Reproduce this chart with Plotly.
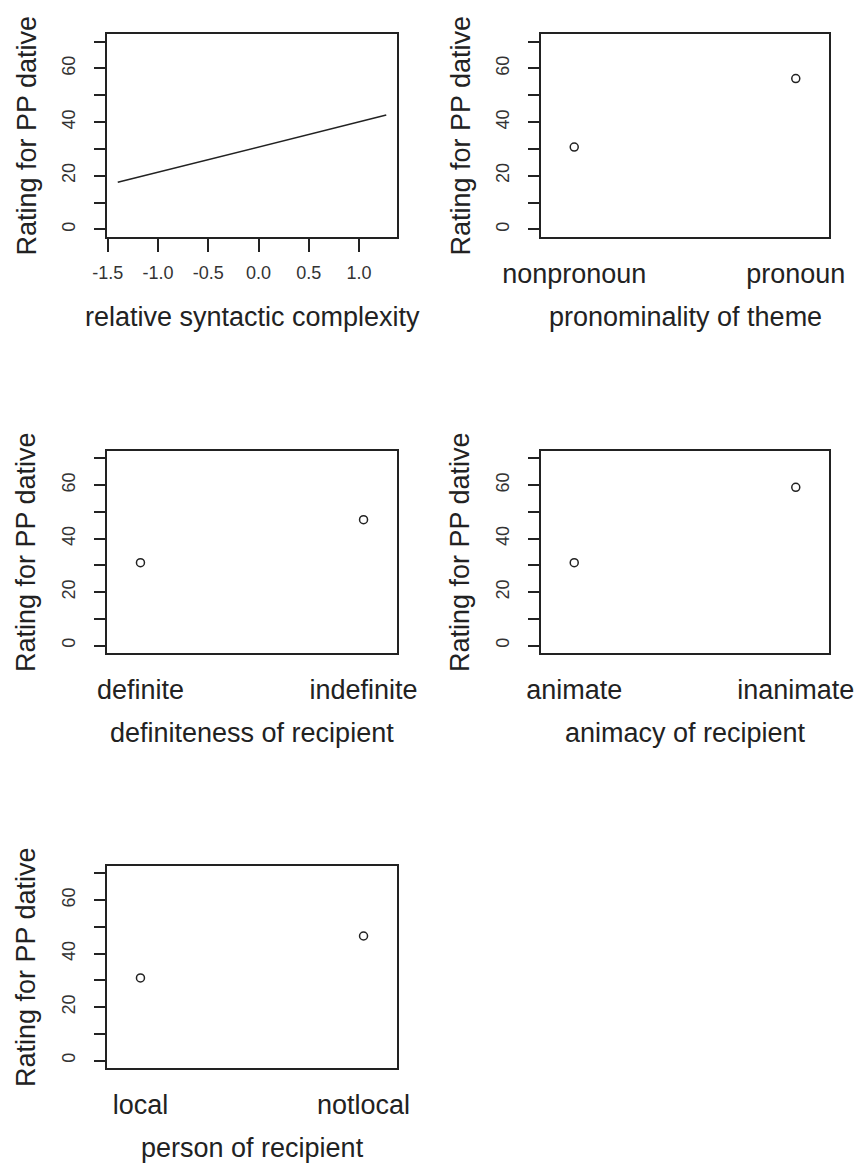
import plotly.graph_objects as go

# ---- data ----
complexity_x = [-1.40, 1.27]
complexity_y = [17.6, 42.6]

theme_levels = ["nonpronoun", "pronoun"]
theme_y = [30.7, 56.2]

definiteness_levels = ["definite", "indefinite"]
definiteness_y = [31.0, 47.1]

animacy_levels = ["animate", "inanimate"]
animacy_y = [31.0, 59.2]

person_levels = ["local", "notlocal"]
person_y = [30.9, 46.6]

x_titles = ["relative syntactic complexity", "pronominality of theme",
            "definiteness of recipient", "animacy of recipient",
            "person of recipient"]
y_title = "Rating for PP dative"

y_tickvals = [0, 10, 20, 30, 40, 50, 60, 70]
y_ticktext = ["0", "", "20", "", "40", "", "60", ""]
x1_tickvals = [-1.5, -1.0, -0.5, 0.0, 0.5, 1.0]
x1_ticktext = ["-1.5", "-1.0", "-0.5", "0.0", "0.5", "1.0"]

W, H = 858, 1164
INK = "#222222"
FONT = "Liberation Sans, Arial, sans-serif"

# panel boxes in pixels: (left, right, top, bottom)
boxes = [
    (107, 397, 34, 237),
    (541, 829, 34, 237),
    (107, 397, 451, 653),
    (541, 829, 451, 653),
    (107, 397, 866, 1068),
]

fig = go.Figure()

# panel 1 : line
fig.add_trace(go.Scatter(x=complexity_x, y=complexity_y, mode="lines",
                         line=dict(color=INK, width=1.5),
                         xaxis="x", yaxis="y", showlegend=False))

cat_sets = [(theme_levels, theme_y), (definiteness_levels, definiteness_y),
            (animacy_levels, animacy_y), (person_levels, person_y)]
for i, (lv, yv) in enumerate(cat_sets, start=2):
    fig.add_trace(go.Scatter(x=lv, y=yv, mode="markers",
                             marker=dict(symbol="circle-open", size=8,
                                         color=INK, line=dict(width=1.5, color=INK)),
                             xaxis=f"x{i}", yaxis=f"y{i}", showlegend=False))

pad = 0.04
dx = max(complexity_x) - min(complexity_x)
x1_range = [min(complexity_x) - pad * dx, max(complexity_x) + pad * dx]
y_range = [-2.8, 72.8]

layout = dict(
    width=W, height=H, autosize=False,
    margin=dict(l=0, r=0, t=0, b=0, pad=0),
    paper_bgcolor="white", plot_bgcolor="white",
    font=dict(family=FONT, color=INK),
)

annotations = []
for i, (l, r, t, b) in enumerate(boxes, start=1):
    sfx = "" if i == 1 else str(i)
    xdom = [l / W, r / W]
    ydom = [1 - b / H, 1 - t / H]
    xa = dict(domain=xdom, anchor=f"y{sfx}", showline=True, mirror=True,
              linecolor=INK, linewidth=1.5, showgrid=False, zeroline=False,
              automargin=False,
              tickfont=dict(size=27, color=INK, family=FONT))
    if i == 1:
        xa.update(range=x1_range, tickvals=x1_tickvals, ticktext=x1_ticktext,
                  ticks="outside", ticklen=13, tickwidth=1.5, tickcolor=INK,
                  tickfont=dict(size=18, color="#333333", family=FONT),
                  ticklabelstandoff=6)
    else:
        xa.update(type="category", range=[-0.15, 1.15], ticks="",
                  ticklabelstandoff=12)
    ya = dict(domain=ydom, anchor=f"x{sfx}", showline=True, mirror=True,
              linecolor=INK, linewidth=1.5, showgrid=False, zeroline=False,
              automargin=False,
              range=y_range, tickvals=y_tickvals, ticktext=y_ticktext,
              ticks="outside", ticklen=11, tickwidth=1.5, tickcolor=INK,
              tickangle=-90, tickfont=dict(size=18, color="#333333", family=FONT),
              ticklabelstandoff=12)
    layout[f"xaxis{sfx}"] = xa
    layout[f"yaxis{sfx}"] = ya
    # axis titles
    annotations.append(dict(text=x_titles[i - 1], xref="paper", yref="paper",
                            x=(l + r) / 2 / W, y=1 - (b + 80) / H,
                            xanchor="center", yanchor="middle", showarrow=False,
                            font=dict(size=27, color=INK, family=FONT)))
    annotations.append(dict(text=y_title, xref="paper", yref="paper",
                            x=(l - 81) / W, y=1 - (t + b) / 2 / H,
                            xanchor="center", yanchor="middle", showarrow=False,
                            textangle=-90,
                            font=dict(size=27, color=INK, family=FONT)))

layout["annotations"] = annotations
fig.update_layout(**layout)
fig.write_html("out.html")
